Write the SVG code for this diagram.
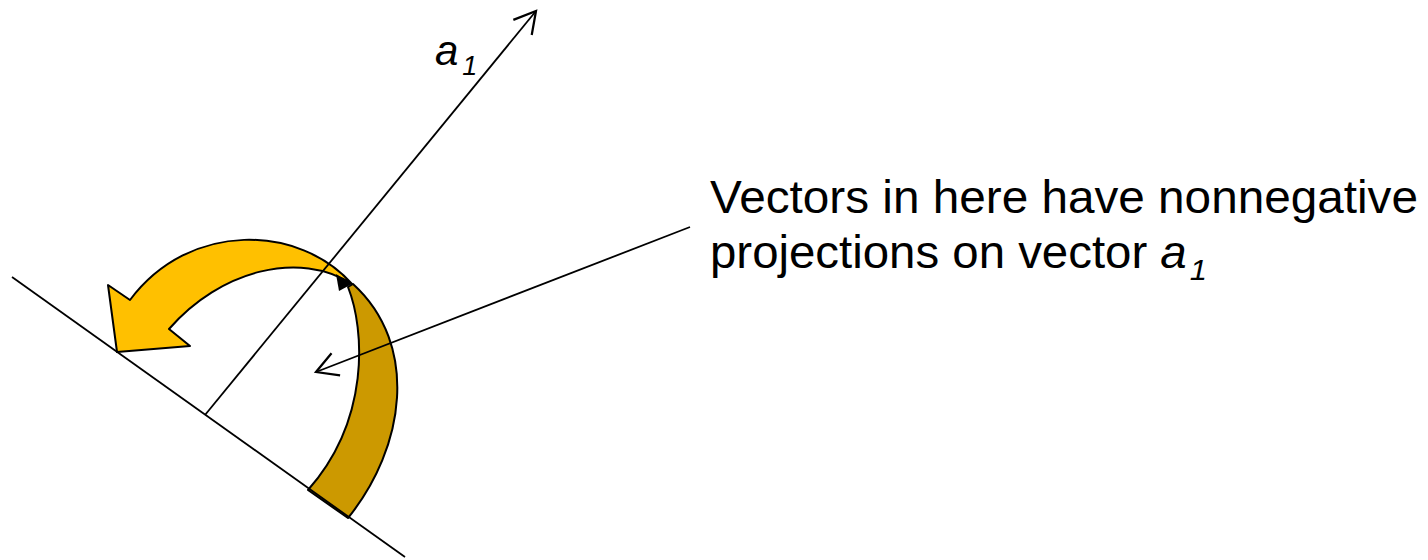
<svg xmlns="http://www.w3.org/2000/svg" width="1428" height="560" viewBox="0 0 1428 560">
  <style>
    .ln { stroke: #000; stroke-width: 1.8; fill: none; }
    .band { stroke: #000; stroke-width: 2; stroke-linejoin: round; }
    .txt { font-family: "Liberation Sans", Arial, sans-serif; fill: #000; }
  </style>
  <defs>
    <marker id="open" markerUnits="userSpaceOnUse" markerWidth="30" markerHeight="30" viewBox="-20 -12 24 24" refX="0" refY="0" orient="auto">
      <path d="M-17,-9.5 L0,0 L-17,9.5" fill="none" stroke="#000" stroke-width="1.8"/>
    </marker>
  </defs>

  <g id="curved-arrow">
    <path class="band" fill="#CC9900" d="M308,490 L348,518 C405,448 420,345 353,284 L348,287 C365,330 370,420 308,490 Z"/>
    <path class="band" fill="#FFC000" d="M352,284 C300,225 190,220 130,300 L108,285 L117,352 L190,346 L169,329 C220,270 300,250 352,284 Z"/>
    <polygon points="336,274 352,284 339,291" fill="#000"/>
  </g>

  <g id="connectors">
    <line id="halfplane-boundary" class="ln" x1="12" y1="277" x2="405" y2="557"/>
    <line id="vector-a1" class="ln" x1="205" y1="415" x2="536" y2="11" marker-end="url(#open)"/>
    <line id="pointer" class="ln" x1="690" y1="227" x2="316" y2="372" marker-end="url(#open)"/>
  </g>

  <g id="label-a1">
    <text class="txt" x="435" y="65" font-size="42" font-style="italic">a<tspan font-size="27" dx="4" dy="10">1</tspan></text>
  </g>

  <g id="caption">
    <text class="txt" x="710" y="213" font-size="46" textLength="708" lengthAdjust="spacingAndGlyphs">Vectors in here have nonnegative</text>
    <text class="txt" x="710" y="268" font-size="46" textLength="497" lengthAdjust="spacingAndGlyphs">projections on vector <tspan font-style="italic">a</tspan><tspan font-style="italic" font-size="30" dx="3" dy="12">1</tspan></text>
  </g>
</svg>
